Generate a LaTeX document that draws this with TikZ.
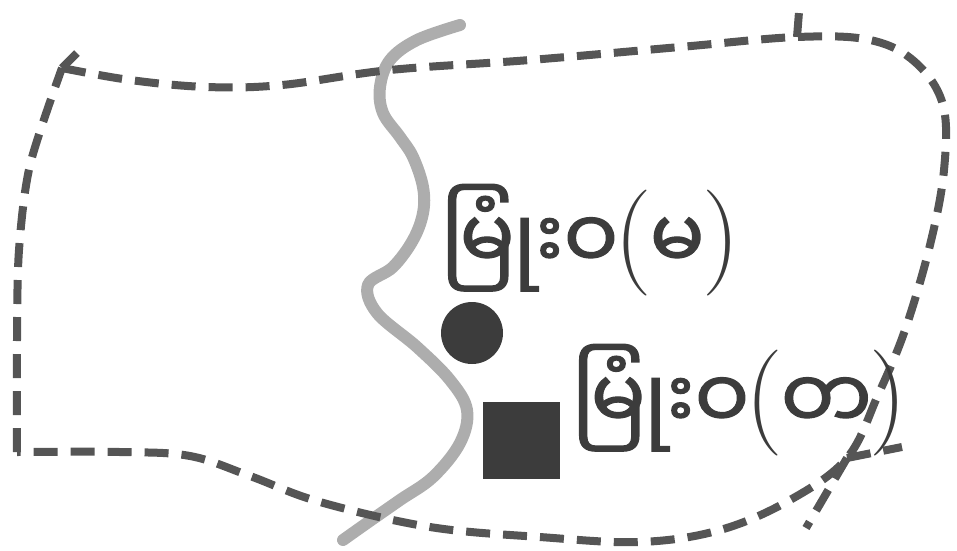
\documentclass[tikz,border=0pt]{standalone}
\usepackage{fontspec}
\newfontfamily\myanfont[Script=Myanmar, FakeBold=1.5]{Noto Sans Myanmar UI}
\usetikzlibrary{positioning}
\definecolor{borderc}{HTML}{555555}
\definecolor{riverc}{HTML}{ADADAD}
\definecolor{townc}{HTML}{3C3C3C}
\newcommand{\inparens}[1]{\kern-4pt{\rmfamily\fontsize{106}{120}\selectfont(}\kern-2pt#1\kern-2pt{\rmfamily\fontsize{106}{120}\selectfont)}}

\begin{document}
\begin{tikzpicture}
  [x=1pt, y=-1pt,
   border/.style={draw=borderc, line width=8pt, dash pattern=on 24pt off 13pt},
   river/.style={draw=riverc, line width=12pt, line cap=round},
   townlabel/.style={anchor=west, inner sep=0pt, text=townc, font=\myanfont\fontsize{81}{96}\selectfont}]
  \useasboundingbox (0,0) rectangle (957,550);
  \draw [river] plot [smooth, tension=0.6] coordinates {
    (460,25) (417,40) (390,60) (380,87) (383,113) (400,137) (413,157) (423,187)
    (423,213) (413,240) (393,267) (368,285) (377,313) (417,347) (450,380)
    (467,410) (460,443) (433,477) (400,500) (367,523) (343,540)};
  \draw [border] plot [smooth, tension=0.5] coordinates {
    (17,452) (17,340) (19,250) (30,165) (62,68)}
    plot [smooth, tension=0.6] coordinates {
    (62,68) (130,80) (207,87) (282,85) (390,70) (530,60) (680,47) (797,37)
    (870,40) (915,62) (943,105) (944,170) (930,245) (905,330) (878,395)
    (847,458) (790,500) (720,530) (640,542) (540,537) (430,527) (320,502)
    (250,476) (190,456) (120,452) (17,452)};
  \coordinate (joint) at (847,458);
  \draw [border] (62,68) -- (77,53);
  \draw [border] (797,37) -- (799,12);
  \draw [border] (joint) -- (902,447);
  \draw [border] (joint) -- (806,528);
  \node (town) at (472,333) [circle, fill=townc, minimum size=62pt, inner sep=0pt] {};
  \node (city) at (521,440) [fill=townc, minimum size=77pt, inner sep=0pt] {};
  \node (north) at (441,240) [townlabel] {မြုံးဝ\inparens{မ}};
  \node (south) at (572,400) [townlabel] {မြုံးဝ\inparens{တ}};
\end{tikzpicture}
\end{document}
